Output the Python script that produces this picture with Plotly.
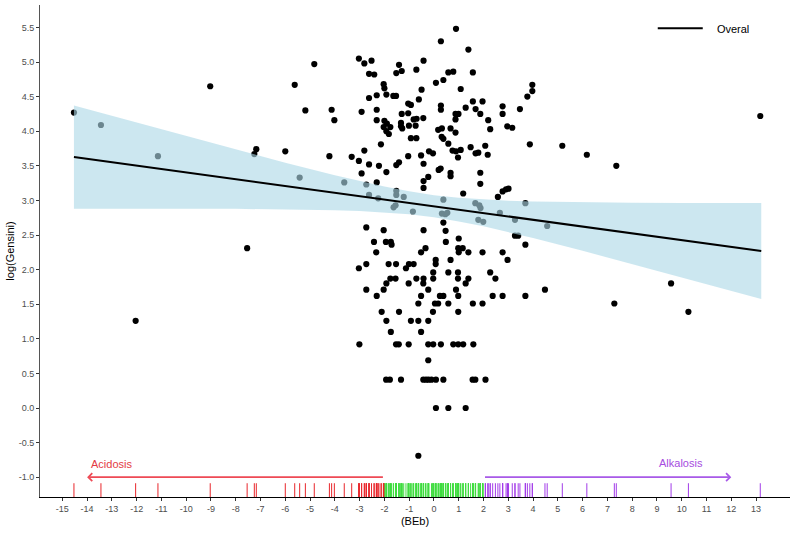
import plotly.graph_objects as go

# ---------------- data ----------------
be = [
    -14.53, -13.44, -12.04, -11.14, -9.03, -7.54, -7.25, -7.17, -6.00, -5.62, -5.42, -5.19, -4.83,
    -3.03, -2.81, -2.52, -2.62, -2.41, -1.41, -0.42, -1.30, -1.52, -0.71,
    -2.03, -2.00, -0.50, -2.62, -2.31, -1.92, -1.64, -1.53, -1.04, -0.93,
    -0.61, -4.13, -4.02, -2.92, -2.31, -2.31, -1.30, -1.04, -0.82, -0.70,
    -0.43, -2.00, -1.90, -2.03, -1.76, -1.92, -1.82, -1.33, -1.33, -1.28,
    -1.01, -0.74, -0.93, -0.71, -2.14, -4.22, -3.32, -3.03, -2.81, -2.62,
    -2.22, -1.52, -1.41, -1.04, -0.52, -0.20, -0.04, -0.42, -2.92, -1.92,
    -2.31, -0.42, -0.42, -0.23,
    -3.62, -2.73, -2.62, -2.25, -1.52, -1.52, -1.22, -1.55, -1.63, -0.85,
    -2.73, -2.03, -0.42,
    0.89, 0.28, 1.39, 0.58, 0.78, 1.57, 0.08, 0.38, 1.08, 3.97,
    3.97, 3.77, 0.28, 0.28, 1.28, 1.57, 1.96, 1.68, 1.87, 0.87,
    0.99, 0.87, 2.19, 2.27, 2.77, 2.77, 3.47, 2.96, 3.16, 0.17,
    0.32, 0.67, 0.87, 0.31, 0.38, 0.58, 3.87, 0.75, 0.89, 1.08,
    0.97, 1.48, 1.68, 1.79, 2.07, 2.17, 0.19, 0.27, 0.67, 0.67,
    1.87, 1.87, 1.18, 2.58, 2.77, 2.91, 3.01,
    0.38, 0.32, 0.46, 0.54, 1.67, 1.83, 1.88, 1.79, 1.99, 2.66, 3.27, 3.69,
    0.38, 0.47, 1.00, 3.27, 3.40,
    -2.42, -1.94, -1.74, -1.71, -2.33, -0.52, -0.34, -3.03, -2.73, -1.83,
    -1.53, -1.13, -1.01, -0.82, -1.76, -1.55, -0.71, -0.42, -1.92, -1.02,
    -0.43, -2.73, -2.03, -0.23, -2.31, -0.52, -0.63, -2.11, -1.41, -0.04,
    -1.92, -0.93, -0.63, -0.23, -1.74, -0.52,
    -3.01, -1.53, -1.42, -1.02, -0.23, -0.03, 0.28, 0.78, 0.98, 1.18, 1.59,
    -0.23,
    -1.93, -1.78, -1.33, -0.43, -0.32, -0.22, -0.10, 0.08, 0.38, 1.56, 1.67, 2.08,
    0.08, 0.58, 1.28,
    -0.63,
    0.48, 0.98, 1.16, 1.00, 1.39, 1.96, 2.77, 3.69, 2.97, 0.07,
    0.07, 0.67, -0.03, -0.03, 0.58, 0.97, 0.97, 1.39, 1.28, 2.27,
    2.48, 0.89, 0.24, 0.38, 0.98, 2.37, 2.77, 3.69, 0.04, 0.17,
    0.58, 1.57, 1.96, 0.98,
    4.48, 4.57, 5.18, 6.17, 7.28, 7.36, 9.57, 10.27, 13.17,
]
log_gensini = [
    4.27, 4.09, 1.26, 3.64, 4.65, 2.31, 3.67, 3.74, 3.71, 4.67, 3.33, 4.30, 4.97,
    5.05, 4.98, 5.02, 4.83, 4.82, 4.96, 5.02, 4.87, 4.84, 4.89,
    4.68, 4.62, 4.60, 4.48, 4.52, 4.53, 4.51, 4.51, 4.40, 4.38,
    4.46, 4.31, 4.16, 4.28, 4.31, 4.16, 4.25, 4.26, 4.17, 4.18,
    4.19, 4.15, 4.11, 4.06, 4.06, 4.00, 3.96, 4.12, 4.07, 4.04,
    4.08, 4.08, 3.90, 3.90, 3.81, 3.64, 3.63, 3.57, 3.72, 3.52,
    3.50, 3.51, 3.55, 3.64, 3.65, 3.71, 3.68, 3.53, 3.39, 3.41,
    3.26, 3.28, 3.18, 3.34,
    3.26, 3.23, 3.08, 3.03, 3.14, 3.08, 3.05, 2.93, 2.90, 2.84,
    2.61, 2.57, 2.57,
    5.48, 5.30, 5.18, 4.85, 4.86, 4.85, 4.70, 4.74, 4.61, 4.67,
    4.58, 4.50, 4.37, 4.31, 4.34, 4.43, 4.43, 4.32, 4.25, 4.25,
    4.25, 4.17, 4.16, 4.03, 4.36, 4.25, 4.32, 4.07, 4.05, 4.02,
    4.04, 4.04, 3.98, 3.92, 3.89, 3.82, 3.81, 3.72, 3.71, 3.73,
    3.62, 3.77, 3.68, 3.69, 3.79, 3.66, 3.44, 3.46, 3.40, 3.35,
    3.40, 3.24, 3.10, 3.05, 3.13, 3.16, 3.17,
    3.01, 2.81, 2.80, 2.82, 2.96, 2.93, 2.89, 2.72, 2.69, 2.82, 2.72, 2.96,
    2.68, 2.56, 2.45, 2.49, 2.49,
    2.40, 2.40, 2.40, 2.36, 2.25, 2.25, 2.31, 2.02, 2.08, 2.08,
    2.08, 2.02, 2.08, 2.08, 1.87, 1.87, 1.87, 1.87, 1.80, 1.80,
    1.80, 1.71, 1.71, 1.71, 1.62, 1.62, 1.51, 1.39, 1.39, 1.39,
    1.26, 1.26, 1.26, 1.26, 1.10, 1.10,
    0.92, 0.92, 0.92, 0.92, 0.92, 0.92, 0.92, 0.92, 0.92, 0.92, 0.92,
    0.69,
    0.41, 0.41, 0.41, 0.41, 0.41, 0.41, 0.41, 0.41, 0.41, 0.41, 0.41, 0.41,
    0.00, 0.00, 0.00,
    -0.69,
    2.40, 2.31, 2.31, 2.25, 2.25, 2.25, 2.25, 2.36, 2.14, 2.14,
    2.08, 2.14, 1.96, 1.87, 1.96, 1.96, 1.87, 1.87, 1.80, 1.96,
    1.87, 1.71, 1.62, 1.62, 1.62, 1.62, 1.62, 1.62, 1.51, 1.51,
    1.51, 1.51, 1.51, 1.39,
    1.71, 2.63, 3.79, 3.66, 1.51, 3.50, 1.80, 1.39, 4.22,
]

# fitted line (read endpoints) and its confidence band (read at several BEb values)
fit_x = [-14.53, 13.21]
fit_y = [3.627, 2.269]
band_x = [-14.53, -12, -10, -8, -6, -4, -3, -2, -1, 0, 1, 2, 3, 4, 6, 8, 10, 13.21]
band_upper = [4.373, 4.125, 3.929, 3.736, 3.546, 3.365, 3.279, 3.200, 3.131, 3.076,
              3.037, 3.011, 2.995, 2.984, 2.972, 2.966, 2.964, 2.964]
band_lower = [2.881, 2.881, 2.881, 2.878, 2.872, 2.859, 2.847, 2.828, 2.799, 2.756,
              2.697, 2.625, 2.543, 2.456, 2.272, 2.082, 1.888, 1.574]

x_ticks = list(range(-15, 14))
x_tick_labels = [str(v) for v in x_ticks]
y_ticks = [-1.0, -0.5, 0.0, 0.5, 1.0, 1.5, 2.0, 2.5, 3.0, 3.5, 4.0, 4.5, 5.0, 5.5]
y_tick_labels = [f"{v:.1f}" for v in y_ticks]

acid_cut, alk_cut = -2, 2
acid_arrow = [-2, -14]
alk_arrow = [2, 12]
arrow_level = -1.0

FONT = "Liberation Sans, Arial, sans-serif"
RED = "#E8262B"
GREEN = "#3FDC3F"
PURPLE = "#A23CE8"

fig = go.Figure()

# points
fig.add_trace(go.Scatter(
    x=be, y=log_gensini, mode="markers",
    marker=dict(color="black", size=6.2),
    showlegend=False, hoverinfo="skip"))

# confidence band (drawn over the points, semi-transparent)
fig.add_trace(go.Scatter(
    x=band_x + band_x[::-1], y=band_upper + band_lower[::-1],
    fill="toself", fillcolor="rgba(173,216,230,0.62)",
    line=dict(width=0), mode="lines", showlegend=False, hoverinfo="skip"))

# regression line
fig.add_trace(go.Scatter(
    x=fit_x, y=fit_y, mode="lines", name="\u00a0\u00a0\u00a0Overal",
    line=dict(color="black", width=2), hoverinfo="skip"))

# rug
shapes = []
for x in be:
    if x < acid_cut:
        c = RED
    elif x <= alk_cut:
        c = GREEN
    else:
        c = PURPLE
    shapes.append(dict(type="line", xref="x", yref="y domain", x0=x, x1=x,
                       y0=0, y1=0.028, line=dict(color=c, width=1)))

annotations = [
    dict(x=acid_arrow[1], y=arrow_level, ax=acid_arrow[0], ay=arrow_level,
         xref="x", yref="y", axref="x", ayref="y", text="", showarrow=True,
         arrowhead=4, arrowsize=0.9, arrowwidth=1.7, arrowcolor="#EE4A55"),
    dict(x=alk_arrow[1], y=arrow_level, ax=alk_arrow[0], ay=arrow_level,
         xref="x", yref="y", axref="x", ayref="y", text="", showarrow=True,
         arrowhead=4, arrowsize=0.9, arrowwidth=1.7, arrowcolor="#A85AE8"),
    dict(x=-13.0, y=-0.81, xref="x", yref="y", text="Acidosis", showarrow=False,
         font=dict(family=FONT, size=11, color="#E33A44")),
    dict(x=9.97, y=-0.80, xref="x", yref="y", text="Alkalosis", showarrow=False,
         font=dict(family=FONT, size=11, color="#A64CE0")),
]

fig.update_layout(
    width=800, height=533,
    margin=dict(l=40, r=10, t=5, b=36),
    paper_bgcolor="white", plot_bgcolor="white",
    font=dict(family=FONT, size=11, color="black"),
    shapes=shapes, annotations=annotations,
    legend=dict(x=0.817, y=0.982, xanchor="left", yanchor="top",
                bgcolor="rgba(0,0,0,0)", font=dict(family=FONT, size=11),
                itemwidth=45),
    xaxis=dict(range=[-15.9, 14.37], tickvals=x_ticks, ticktext=x_tick_labels,
               showgrid=False, zeroline=False, showline=True, linecolor="black",
               linewidth=1, ticks="outside", ticklen=3, tickcolor="#333333",
               tickfont=dict(family=FONT, size=9, color="#4D4D4D"),
               title=dict(text="(BEb)", font=dict(family=FONT, size=11), standoff=4)),
    yaxis=dict(range=[-1.286, 5.824], tickvals=y_ticks, ticktext=y_tick_labels,
               showgrid=False, zeroline=False, showline=True, linecolor="#555555",
               linewidth=1, ticks="outside", ticklen=3, tickcolor="#333333",
               tickfont=dict(family=FONT, size=9, color="#4D4D4D"),
               title=dict(text="log(Gensini)", font=dict(family=FONT, size=11), standoff=1)),
)

fig.write_html("out.html")
